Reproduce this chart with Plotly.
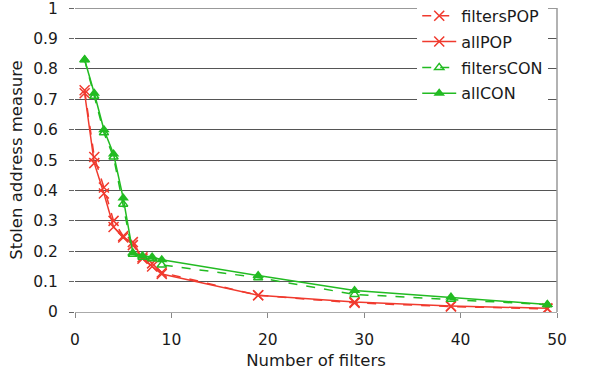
import plotly.graph_objects as go

# Number of filters on the x axis
filters = [1, 2, 3, 4, 5, 6, 7, 8, 9, 19, 29, 39, 49]

# Stolen address measure per series
filters_pop = [0.73, 0.51, 0.41, 0.30, 0.25, 0.22, 0.18, 0.16, 0.13, 0.055, 0.030, 0.018, 0.010]
all_pop = [0.72, 0.49, 0.39, 0.28, 0.245, 0.23, 0.175, 0.15, 0.125, 0.055, 0.033, 0.020, 0.012]
filters_con = [0.83, 0.71, 0.59, 0.51, 0.355, 0.19, 0.18, 0.175, 0.155, 0.113, 0.058, 0.042, 0.024]
all_con = [0.83, 0.72, 0.60, 0.52, 0.375, 0.195, 0.185, 0.181, 0.172, 0.120, 0.071, 0.049, 0.025]

y_ticks = [0, 0.1, 0.2, 0.3, 0.4, 0.5, 0.6, 0.7, 0.8, 0.9, 1]
y_tick_text = ["0", "0.1", "0.2", "0.3", "0.4", "0.5", "0.6", "0.7", "0.8", "0.9", "1"]

RED = "#f03a2e"
GREEN = "#22bb22"
TEXT = "#1a1a1a"

fig = go.Figure()
fig.add_trace(go.Scatter(
    x=filters, y=filters_pop, name="filtersPOP", mode="lines+markers", legendgroup="a",
    line=dict(color=RED, width=1.5, dash="dash"),
    marker=dict(symbol="x-thin-open", size=10, line=dict(color=RED, width=1.5)),
))
fig.add_trace(go.Scatter(
    x=filters, y=all_pop, name="allPOP", mode="lines+markers", legendgroup="b",
    line=dict(color=RED, width=1.5),
    marker=dict(symbol="x-thin-open", size=10, line=dict(color=RED, width=1.5)),
))
fig.add_trace(go.Scatter(
    x=filters, y=filters_con, name="filtersCON", mode="lines+markers", legendgroup="c",
    line=dict(color=GREEN, width=1.5, dash="dash"),
    marker=dict(symbol="triangle-up-open", size=8, color=GREEN, line=dict(color=GREEN, width=1.5)),
))
fig.add_trace(go.Scatter(
    x=filters, y=all_con, name="allCON", mode="lines+markers", legendgroup="d",
    line=dict(color=GREEN, width=1.5),
    marker=dict(symbol="triangle-up", size=10, color=GREEN),
))

fig.update_layout(
    width=592, height=378,
    margin=dict(l=75, r=35, t=8, b=66, autoexpand=False),
    paper_bgcolor="white", plot_bgcolor="white",
    font=dict(family="DejaVu Sans", size=15.5, color=TEXT),
    legend=dict(
        x=0.71, y=1.03, xanchor="left", yanchor="top",
        bgcolor="white", borderwidth=0,
        font=dict(family="DejaVu Sans", size=16, color=TEXT),
        itemwidth=34, traceorder="grouped", tracegroupgap=2,
    ),
    xaxis=dict(
        range=[0, 50], tickvals=[0, 10, 20, 30, 40, 50],
        showgrid=False, zeroline=False,
        showline=True, linecolor="#aaaaaa", linewidth=1,
        ticks="outside", ticklen=5, tickcolor="#888888",
        ticklabelstandoff=8,
        title=dict(text="Number of filters", standoff=6,
                   font=dict(family="DejaVu Sans", size=16.5, color=TEXT)),
    ),
    yaxis=dict(
        range=[0, 1.0005], tickvals=y_ticks, ticktext=y_tick_text,
        showgrid=True, gridcolor="#555555", gridwidth=1.3,
        zeroline=False, showline=False,
        ticks="outside", ticklen=5, tickcolor="#666666",
        ticklabelstandoff=8, ticklabeloverflow="allow",
        title=dict(text="Stolen address measure", standoff=6,
                   font=dict(family="DejaVu Sans", size=16.5, color=TEXT)),
    ),
    shapes=[
        # plot frame: top rule and right edge
        dict(type="line", xref="paper", yref="y", x0=0, x1=1, y0=1, y1=1,
             line=dict(color="#777777", width=1.3)),
        dict(type="line", xref="paper", yref="paper", x0=1, x1=1, y0=0, y1=1,
             line=dict(color="#999999", width=1.5)),
    ],
)

fig.write_html("out.html")
